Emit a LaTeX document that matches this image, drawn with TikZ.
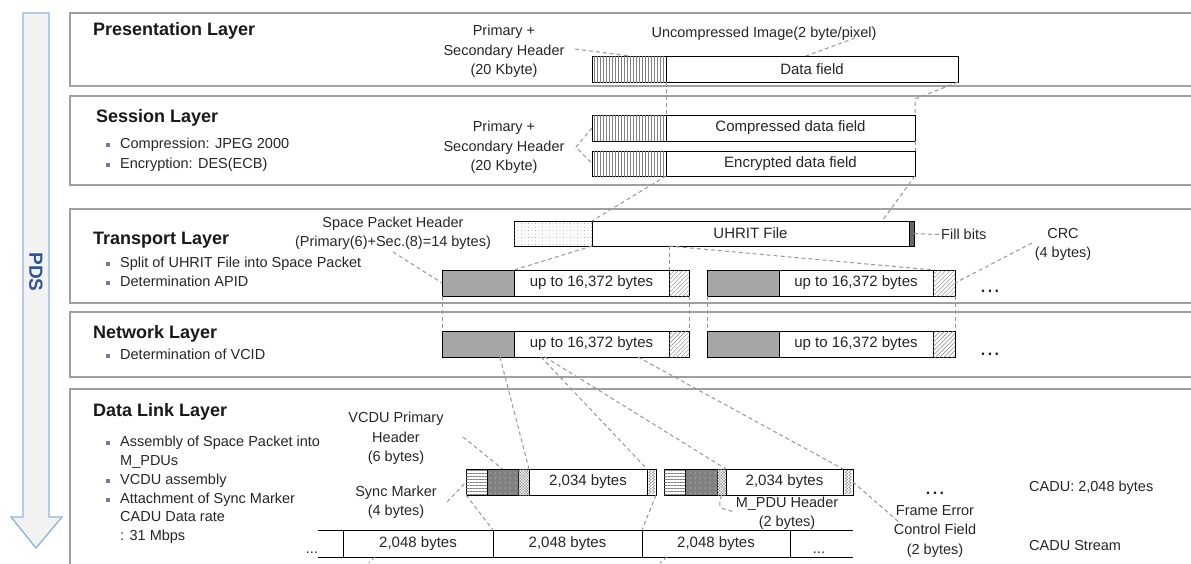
\documentclass[tikz,border=0pt]{standalone}
\usepackage{fontspec}
\setmainfont{Liberation Sans}
\usetikzlibrary{patterns.meta,decorations.pathmorphing}
\definecolor{layerc}{RGB}{160,160,160}
\definecolor{arrowfill}{RGB}{242,242,242}
\definecolor{arrowdraw}{RGB}{140,180,225}
\definecolor{pdsblue}{RGB}{47,85,151}
\definecolor{hdrgray}{RGB}{166,166,166}
\definecolor{darkhdr}{RGB}{128,128,128}
\definecolor{dashc}{RGB}{150,150,150}
\definecolor{bulletc}{RGB}{120,120,155}
\definecolor{txt}{RGB}{38,38,38}
\newcommand{\fieldat}[7]{\node[#2, minimum width={(#5-#3)*1pt}, minimum height={(#6-#4)*1pt}] (#1) at (#3,#4) {#7};}
\newcommand{\bulitem}[3]{\fill[bulletc] (105.5,#1-0) rectangle (109.5,#1+4); \node[btext] (#2) at (120,#1) {#3};}
\tikzset{
  layerbox/.style={draw=layerc, line width=1.3pt},
  fieldbox/.style={draw=black, line width=0.8pt, inner sep=0pt, outer sep=0pt, fill=white, anchor=north west,
    font=\fontsize{15}{19}\selectfont, text=txt},
  vhatch/.style={fieldbox, postaction={pattern={Lines[angle=90,distance=3pt,line width=0.4pt]}, pattern color=gray}},
  dotbox/.style={fieldbox, postaction={pattern={Dots[distance=3.5pt,radius=0.4pt]}, pattern color=gray}},
  fillbox/.style={fieldbox, fill=darkhdr!80!black},
  ghdr/.style={fieldbox, fill=hdrgray},
  crcbox/.style={fieldbox, postaction={pattern={Lines[angle=45,distance=3pt,line width=0.4pt]}, pattern color=darkhdr}},
  syncbox/.style={fieldbox, postaction={pattern={Lines[angle=0,distance=3pt,line width=0.4pt]}, pattern color=darkhdr}},
  vphbox/.style={fieldbox, fill=darkhdr, postaction={pattern={Dots[distance=5pt,radius=0.5pt]}, pattern color=white}},
  mpdubox/.style={fieldbox, fill=white, postaction={pattern={Hatch[distance=2pt,angle=45,line width=0.3pt]}, pattern color=gray}},
  fecfbox/.style={fieldbox},
  cadubox/.style={draw=black, line width=0.8pt, inner sep=0pt, outer sep=0pt, anchor=north west,
    font=\fontsize{15}{19}\selectfont, text=txt},
  conn/.style={draw=dashc, line width=1pt, dash pattern=on 4pt off 3pt},
  title/.style={anchor=west, inner sep=0pt, yshift=-2pt, font=\fontsize{18}{20}\selectfont\bfseries, text=black!90},
  btext/.style={anchor=west, inner sep=0pt, yshift=-2pt, font=\fontsize{14.5}{19}\selectfont, text=txt, text height=10.5pt, text depth=3pt},
  lbl/.style={align=center, inner sep=0pt, yshift=-1.5pt, font=\fontsize{14.5}{19.3}\selectfont, text=txt},
  bigdots/.style={anchor=base, inner sep=0pt, font=\fontsize{16}{18}\selectfont\bfseries, text=txt},
  zig/.style={draw=darkhdr, line width=0.4pt, decorate, decoration={zigzag, segment length=3pt, amplitude=1.3pt}}
}
\begin{document}
\begin{tikzpicture}[x=1pt,y=-1pt]
\useasboundingbox (0,0) rectangle (1191,563);

% PDS arrow
\draw[fill=arrowfill, draw=arrowdraw, line width=1.3pt] (23,13) -- (49,13) -- (49,517) -- (62,517) -- (36,548) -- (11,517) -- (23,517) -- cycle;
\node[rotate=-90, font=\fontsize{19}{20}\selectfont\bfseries, text=pdsblue] (pds) at (36,272) {PDS};

% layer frames
\draw[layerbox] (1200,13) -- (70,13) -- (70,86) -- (1200,86);
\draw[layerbox] (1200,96) -- (70,96) -- (70,185) -- (1200,185);
\draw[layerbox] (1200,209) -- (70,209) -- (70,303) -- (1200,303);
\draw[layerbox] (1200,312) -- (70,312) -- (70,377) -- (1200,377);
\draw[layerbox] (1200,389) -- (70,389) -- (70,600);

% titles and bullets
\node[title] (tpres) at (93,29) {Presentation Layer};
\node[title] (tsess) at (96,116) {Session Layer};
\bulitem{143}{b1}{Compression: JPEG 2000}
\bulitem{163}{b2}{Encryption: DES(ECB)}
\node[title] (ttrans) at (93,238) {Transport Layer};
\bulitem{262}{b3}{Split of UHRIT File into Space Packet}
\bulitem{281}{b4}{Determination APID}
\node[title] (tnet) at (93,332) {Network Layer};
\bulitem{354}{b5}{Determination of VCID}
\node[title] (tdl) at (93,410) {Data Link Layer};
\bulitem{441}{b6}{Assembly of Space Packet into}
\node[btext] (b6b) at (120,460) {M\_PDUs};
\bulitem{479}{b7}{VCDU assembly}
\bulitem{498}{b8}{Attachment of Sync Marker}
\node[btext] (b9) at (120,516) {CADU Data rate};
\node[btext] (b10) at (120,535) {: 31 Mbps};

% Presentation layer
\node[lbl] (phlabel) at (504,50) {Primary +\\Secondary Header\\(20 Kbyte)};
\node[lbl] (uncomp) at (764,32) {Uncompressed Image(2 byte/pixel)};
\fieldat{phdr}{vhatch}{592}{56}{666}{82}{}
\fieldat{pdata}{fieldbox}{666}{56}{958}{82}{Data field}

% Session layer
\node[lbl] (shlabel) at (504,146) {Primary +\\Secondary Header\\(20 Kbyte)};
\fieldat{chdr}{vhatch}{592}{115}{666}{141}{}
\fieldat{cdata}{fieldbox}{666}{115}{915}{141}{Compressed data field}
\fieldat{ehdr}{vhatch}{592}{151}{666}{176}{}
\fieldat{edata}{fieldbox}{666}{151}{915}{176}{Encrypted data field}

% Transport layer
\node[lbl] (sphlabel) at (393,232) {Space Packet Header\\(Primary(6)+Sec.(8)=14 bytes)};
\fieldat{uhdr}{dotbox}{514}{221}{592}{246}{}
\fieldat{udata}{fieldbox}{592}{221}{909}{246}{UHRIT File}
\fieldat{ufill}{fillbox}{909}{221}{914}{246}{}
\node[lbl, anchor=west] (fillbits) at (941,233) {Fill bits};
\node[lbl] (crclabel) at (1063,243) {CRC\\(4 bytes)};
\fieldat{t1h}{ghdr}{442}{270}{514}{296}{}
\fieldat{t1d}{fieldbox}{514}{270}{669}{296}{up to 16,372 bytes}
\fieldat{t1c}{crcbox}{669}{270}{689}{296}{}
\fieldat{t2h}{ghdr}{707}{270}{779}{296}{}
\fieldat{t2d}{fieldbox}{779}{270}{933}{296}{up to 16,372 bytes}
\fieldat{t2c}{crcbox}{933}{270}{955}{296}{}
\node[bigdots] (tdots) at (990,292) {.\hspace{2.5pt}.\hspace{2.5pt}.};

% Network layer
\fieldat{n1h}{ghdr}{442}{331}{514}{357}{}
\fieldat{n1d}{fieldbox}{514}{331}{669}{357}{up to 16,372 bytes}
\fieldat{n1c}{crcbox}{669}{331}{689}{357}{}
\fieldat{n2h}{ghdr}{707}{331}{779}{357}{}
\fieldat{n2d}{fieldbox}{779}{331}{933}{357}{up to 16,372 bytes}
\fieldat{n2c}{crcbox}{933}{331}{955}{357}{}
\node[bigdots] (ndots) at (990,355) {.\hspace{2.5pt}.\hspace{2.5pt}.};

% Data link layer
\node[lbl] (vphlabel) at (396,437) {VCDU Primary\\Header\\(6 bytes)};
\node[lbl] (synclabel) at (396,501) {Sync Marker\\(4 bytes)};
\fieldat{v1s}{syncbox}{466}{469}{487}{495}{}
\fieldat{v1p}{vphbox}{487}{469}{518}{495}{}
\fieldat{v1m}{mpdubox}{518}{469}{529}{495}{}
\fieldat{v1d}{fieldbox}{529}{469}{647}{495}{2,034 bytes}
\fieldat{v1f}{fecfbox}{647}{469}{656}{495}{}
\fieldat{v2s}{syncbox}{664}{469}{685}{495}{}
\fieldat{v2p}{vphbox}{685}{469}{717}{495}{}
\fieldat{v2m}{mpdubox}{717}{469}{726}{495}{}
\fieldat{v2d}{fieldbox}{726}{469}{843}{495}{2,034 bytes}
\fieldat{v2f}{fecfbox}{843}{469}{853}{495}{}
\draw[zig] (650,470) -- (650,494);
\draw[zig] (653.5,470) -- (653.5,494);
\draw[zig] (846.5,470) -- (846.5,494);
\draw[zig] (850,470) -- (850,494);
\node[lbl] (mpdulabel) at (787,512) {M\_PDU Header\\(2 bytes)};
\node[bigdots] (vdots) at (935,494) {.\hspace{2.5pt}.\hspace{2.5pt}.};
\node[lbl] (fecflabel) at (935,530) {Frame Error\\Control Field\\(2 bytes)};
\node[lbl, anchor=west] (cadulabel) at (1029,486) {CADU: 2,048 bytes};
\node[lbl, anchor=west] (streamlabel) at (1029,544) {CADU Stream};

% CADU stream
\fieldat{cadu1}{cadubox}{343}{530}{493}{557}{2,048 bytes}
\fieldat{cadu2}{cadubox}{493}{530}{642}{557}{2,048 bytes}
\fieldat{cadu3}{cadubox}{642}{530}{790}{557}{2,048 bytes}
\coordinate (csl1) at (318,530);
\coordinate (csl2) at (318,557);
\coordinate (csr1) at (853,530);
\coordinate (csr2) at (853,557);
\draw[line width=0.8pt] (cadu1.north west) -- (csl1);
\draw[line width=0.8pt] (cadu1.south west) -- (csl2);
\draw[line width=0.8pt] (cadu3.north east) -- (csr1);
\draw[line width=0.8pt] (cadu3.south east) -- (csr2);
\node[anchor=base, inner sep=0pt, font=\fontsize{14.5}{19}\selectfont, text=txt] (ldots) at (312,553) {...};
\node[anchor=base, inner sep=0pt, font=\fontsize{14.5}{19}\selectfont, text=txt] (rdots) at (819,553) {...};

% connectors
\coordinate (c1a) at (575,49);
\coordinate (c1b) at (630,56);
\draw[conn] (c1a) -- (c1b);
\coordinate (c2a) at (855,38);
\coordinate (c2b) at (806,56);
\draw[conn] (c2a) -- (c2b);
\draw[conn] (phdr.south east) -- (chdr.north east);
\coordinate (c4m) at (915,99);
\draw[conn] (pdata.south east) -- (c4m) -- (cdata.north east);
\draw[conn] (cdata.south east) -- (edata.north east);
\coordinate (c6b) at (882,221);
\draw[conn] (edata.south east) -- (c6b);
\draw[conn] (ehdr.south east) -- (uhdr.north east);
\coordinate (c8a) at (576,147);
\draw[conn] (chdr.west) -- (c8a) -- (ehdr.west);
\coordinate (c9a) at (393,252);
\draw[conn] (c9a) -- (t1h.west);
\draw[conn] (uhdr.south east) -- (t1h.north east);
\coordinate (usplit) at (669,246);
\draw[conn] (usplit) -- (t1d.north east);
\draw[conn] (usplit) -- (t2d.north east);
\draw[conn] (ufill.east) -- (fillbits.west);
\coordinate (c14a) at (1032,243);
\draw[conn] (c14a) -- (t2c.east);
\draw[conn] (t1h.south west) -- (n1h.north west);
\draw[conn] (t1c.south east) -- (n1c.north east);
\draw[conn] (t2h.south west) -- (n2h.north west);
\draw[conn] (t2c.south east) -- (n2c.north east);
\coordinate (c19a) at (500,357);
\coordinate (c20a) at (541,357);
\coordinate (c21a) at (545,357);
\coordinate (c22a) at (638,357);
\draw[conn] (c19a) -- (v1m.north east);
\draw[conn] (c20a) -- (v1d.north east);
\draw[conn] (c21a) -- (v2m.north east);
\draw[conn] (c22a) -- (v2d.north east);
\coordinate (c23a) at (463,437);
\draw[conn] (c23a) -- (v1p.north);
\coordinate (c24a) at (447,502);
\draw[conn] (c24a) -- (v1s.west);
\draw[conn] (v1s.south west) -- (cadu1.north east);
\draw[conn] (v1f.south east) -- (cadu2.north east);
\coordinate (c27b) at (735,512);
\draw[conn] (v2m.south) .. controls (718,508) .. (c27b);
\coordinate (c28b) at (900,523);
\draw[conn] (v2f.east) -- (c28b);
\coordinate (c29a) at (375,557);
\coordinate (c29b) at (369,563);
\coordinate (c30a) at (667,557);
\coordinate (c30b) at (660,563);
\draw[conn] (c29a) -- (c29b);
\draw[conn] (c30a) -- (c30b);
\end{tikzpicture}
\end{document}
